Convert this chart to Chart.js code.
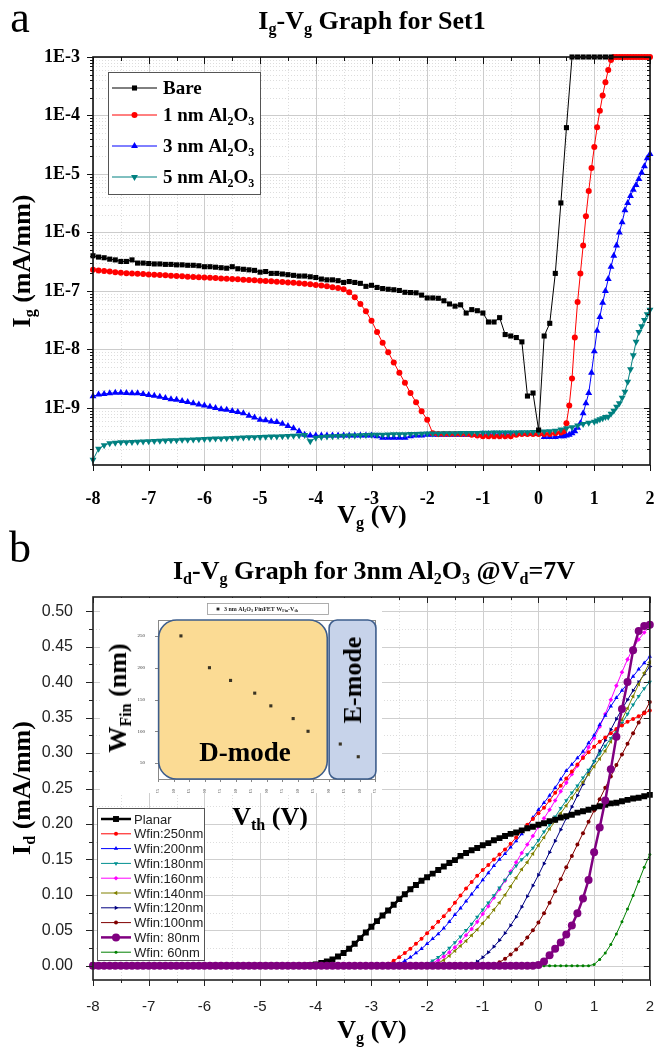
<!DOCTYPE html>
<html lang="en">
<head>
<meta charset="UTF-8">
<title>Ig-Vg and Id-Vg graphs</title>
<script src="https://cdn.jsdelivr.net/npm/chart.js"></script>
<style>
  body { margin: 0; background: #fff; }
  #wrap { position: relative; width: 654px; height: 1055px; overflow: hidden; background: #fff; }
  canvas { position: absolute; }
  .t { position: absolute; transform: translate(-50%, -50%); white-space: nowrap; font-family: "Liberation Serif", "Times New Roman", serif; font-weight: bold; color: #000; line-height: 1; }
  .rot { transform: translate(-50%, -50%) rotate(-90deg); }
  .t sub { font-size: 62%; vertical-align: baseline; position: relative; top: 0.32em; line-height: 0; }
</style>
</head>
<body>
<div id="wrap">
  <canvas id="igChart" width="654" height="530" style="left:0;top:0"></canvas>
  <canvas id="idChart" width="654" height="525" style="left:0;top:530px"></canvas>
  <canvas id="wfinChart" width="282" height="195" style="left:100px;top:598px"></canvas>

  <div class="t" style="left:20px;top:18px;font-size:44px;font-weight:normal">a</div>
  <div class="t" style="left:372px;top:21px;font-size:26px">I<sub>g</sub>-V<sub>g</sub> Graph for Set1</div>
  <div class="t rot" style="left:22px;top:261px;font-size:26px">I<sub>g</sub> (mA/mm)</div>
  <div class="t" style="left:372px;top:515px;font-size:26px">V<sub>g</sub> (V)</div>

  <div class="t" style="left:20px;top:548px;font-size:44px;font-weight:normal">b</div>
  <div class="t" style="left:374px;top:571px;font-size:26px">I<sub>d</sub>-V<sub>g</sub> Graph for 3nm Al<sub>2</sub>O<sub>3</sub> @V<sub>d</sub>=7V</div>
  <div class="t rot" style="left:22px;top:788px;font-size:26px">I<sub>d</sub> (mA/mm)</div>
  <div class="t" style="left:372px;top:1030px;font-size:26px">V<sub>g</sub> (V)</div>

  <div class="t rot" style="left:118px;top:698px;font-size:26px">W<sub>Fin</sub> (nm)</div>
  <div class="t" style="left:270px;top:817px;font-size:26px">V<sub>th</sub> (V)</div>
  <div class="t" style="left:245px;top:752px;font-size:27px">D-mode</div>
  <div class="t rot" style="left:353px;top:680px;font-size:26px">E-mode</div>
</div>
<script>
// gate voltage sweep, -8 V .. 2 V
const vgSweep = [
  -8, -7.9, -7.8, -7.7, -7.6, -7.5, -7.4, -7.3, -7.2, -7.1,
  -7, -6.9, -6.8, -6.7, -6.6, -6.5, -6.4, -6.3, -6.2, -6.1,
  -6, -5.9, -5.8, -5.7, -5.6, -5.5, -5.4, -5.3, -5.2, -5.1,
  -5, -4.9, -4.8, -4.7, -4.6, -4.5, -4.4, -4.3, -4.2, -4.1,
  -4, -3.9, -3.8, -3.7, -3.6, -3.5, -3.4, -3.3, -3.2, -3.1,
  -3, -2.9, -2.8, -2.7, -2.6, -2.5, -2.4, -2.3, -2.2, -2.1,
  -2, -1.9, -1.8, -1.7, -1.6, -1.5, -1.4, -1.3, -1.2, -1.1,
  -1, -0.9, -0.8, -0.7, -0.6, -0.5, -0.4, -0.3, -0.2, -0.1,
  0, 0.1, 0.2, 0.3, 0.4, 0.5, 0.6, 0.7, 0.8, 0.9,
  1, 1.1, 1.2, 1.3, 1.4, 1.5, 1.6, 1.7, 1.8, 1.9,
  2
];
// finer steps used on the turn-on part of the Ig curves
const vgFine = [
  0.45, 0.5, 0.55, 0.6, 0.65, 0.7, 0.75, 0.8, 0.85, 0.9,
  0.95, 1, 1.05, 1.1, 1.15, 1.2, 1.25, 1.3, 1.35, 1.4,
  1.45, 1.5, 1.55, 1.6, 1.65, 1.7, 1.75, 1.8, 1.85, 1.9,
  1.95, 2
];

// ---- panel a: Ig (mA/mm) ----
const bareIg = [
  4.0e-7, 3.8e-7, 3.7e-7, 3.5e-7, 3.4e-7, 3.2e-7, 3.2e-7, 3.4e-7, 3.0e-7, 3.0e-7,
  2.95e-7, 2.9e-7, 2.9e-7, 2.85e-7, 2.85e-7, 2.8e-7, 2.8e-7, 2.75e-7, 2.75e-7, 2.7e-7,
  2.6e-7, 2.6e-7, 2.55e-7, 2.5e-7, 2.45e-7, 2.6e-7, 2.4e-7, 2.35e-7, 2.3e-7, 2.25e-7,
  2.1e-7, 2.15e-7, 2.0e-7, 2.0e-7, 1.95e-7, 1.9e-7, 1.85e-7, 1.8e-7, 1.8e-7, 1.75e-7,
  1.7e-7, 1.6e-7, 1.55e-7, 1.55e-7, 1.5e-7, 1.4e-7, 1.45e-7, 1.4e-7, 1.35e-7, 1.2e-7,
  1.25e-7, 1.15e-7, 1.1e-7, 1.07e-7, 1.05e-7, 1.02e-7, 9.5e-8, 9.4e-8, 9.3e-8, 8.5e-8,
  7.6e-8, 7.6e-8, 7.5e-8, 6.8e-8, 6.0e-8, 5.5e-8, 5.8e-8, 4.2e-8, 4.8e-8, 4.6e-8,
  4.2e-8, 2.95e-8, 2.95e-8, 3.5e-8, 1.8e-8, 1.7e-8, 1.6e-8, 1.35e-8, 1.6e-9, 1.8e-9,
  4.2e-10, 1.7e-8, 2.8e-8, 2.0e-7, 3.2e-6, 6.2e-5, 1e-3, 1e-3, 1e-3, 1e-3,
  1e-3, 1e-3, 1e-3, 1e-3
];
const al1Ig = [
  2.30e-7, 2.25e-7, 2.20e-7, 2.15e-7, 2.10e-7, 2.05e-7, 2.02e-7, 2.00e-7, 1.97e-7, 1.95e-7,
  1.92e-7, 1.90e-7, 1.87e-7, 1.85e-7, 1.83e-7, 1.80e-7, 1.78e-7, 1.76e-7, 1.74e-7, 1.72e-7,
  1.70e-7, 1.68e-7, 1.66e-7, 1.64e-7, 1.62e-7, 1.60e-7, 1.58e-7, 1.56e-7, 1.54e-7, 1.52e-7,
  1.50e-7, 1.48e-7, 1.46e-7, 1.44e-7, 1.42e-7, 1.40e-7, 1.38e-7, 1.36e-7, 1.33e-7, 1.30e-7,
  1.27e-7, 1.24e-7, 1.20e-7, 1.16e-7, 1.12e-7, 1.07e-7, 9.5e-8, 7.8e-8, 6.0e-8, 4.5e-8,
  3.1e-8, 2.0e-8, 1.3e-8, 9.0e-9, 6.0e-9, 4.0e-9, 2.7e-9, 1.8e-9, 1.25e-9, 8.8e-10,
  6.3e-10, 3.7e-10, 3.6e-10, 3.6e-10, 3.6e-10, 3.6e-10, 3.6e-10, 3.6e-10, 3.5e-10, 3.4e-10,
  3.3e-10, 3.3e-10, 3.3e-10, 3.3e-10, 3.3e-10, 3.3e-10, 3.5e-10, 3.6e-10, 3.6e-10, 3.6e-10,
  3.6e-10, 3.6e-10, 3.6e-10, 3.7e-10, 3.8e-10
];
const al1IgFine = [
  4.0e-10, 5.5e-10, 1.1e-9, 3.2e-9, 1.6e-8, 6.5e-8, 2.0e-7, 6.0e-7, 1.9e-6, 5.1e-6,
  1.26e-5, 2.9e-5, 6.3e-5, 1.2e-4, 2.2e-4, 3.7e-4, 6.0e-4, 8.9e-4, 1e-3, 1e-3,
  1e-3, 1e-3, 1e-3, 1e-3, 1e-3, 1e-3, 1e-3, 1e-3, 1e-3, 1e-3,
  1e-3, 1e-3
];
const al3Ig = [
  1.58e-9, 1.70e-9, 1.74e-9, 1.78e-9, 1.82e-9, 1.82e-9, 1.80e-9, 1.78e-9, 1.78e-9, 1.74e-9,
  1.66e-9, 1.62e-9, 1.55e-9, 1.48e-9, 1.41e-9, 1.38e-9, 1.32e-9, 1.26e-9, 1.20e-9, 1.15e-9,
  1.10e-9, 1.05e-9, 1.00e-9, 9.5e-10, 9.3e-10, 8.9e-10, 8.5e-10, 8.1e-10, 7.4e-10, 6.9e-10,
  6.3e-10, 6.2e-10, 5.9e-10, 5.75e-10, 5.4e-10, 4.9e-10, 4.5e-10, 4.0e-10, 3.5e-10, 3.4e-10,
  3.4e-10, 3.4e-10, 3.4e-10, 3.4e-10, 3.4e-10, 3.4e-10, 3.4e-10, 3.4e-10, 3.4e-10, 3.4e-10,
  3.4e-10, 3.3e-10, 3.1e-10, 3.1e-10, 3.1e-10, 3.1e-10, 3.1e-10, 3.3e-10, 3.4e-10, 3.4e-10,
  3.5e-10, 3.5e-10, 3.5e-10, 3.5e-10, 3.5e-10, 3.5e-10, 3.5e-10, 3.5e-10, 3.5e-10, 3.5e-10,
  3.6e-10, 3.6e-10, 3.6e-10, 3.6e-10, 3.6e-10, 3.6e-10, 3.6e-10, 3.6e-10, 3.6e-10, 3.6e-10,
  3.6e-10, 3.2e-10, 3.2e-10, 3.2e-10, 3.3e-10
];
const al3IgFine = [
  3.3e-10, 3.4e-10, 3.5e-10, 3.7e-10, 4.0e-10, 4.6e-10, 5.5e-10, 8.1e-10, 1.2e-9, 1.8e-9,
  4.0e-9, 9.3e-9, 2.1e-8, 3.6e-8, 6.3e-8, 1.0e-7, 1.6e-7, 2.6e-7, 4.0e-7, 6.0e-7,
  1.0e-6, 1.5e-6, 2.4e-6, 3.2e-6, 4.2e-6, 5.4e-6, 6.5e-6, 8.2e-6, 1.05e-5, 1.35e-5,
  1.85e-5, 2.2e-5
];
const al5Ig = [
  1.3e-10, 2.0e-10, 2.3e-10, 2.5e-10, 2.55e-10, 2.6e-10, 2.6e-10, 2.62e-10, 2.65e-10, 2.67e-10,
  2.7e-10, 2.72e-10, 2.75e-10, 2.77e-10, 2.8e-10, 2.82e-10, 2.85e-10, 2.87e-10, 2.9e-10, 2.92e-10,
  2.95e-10, 2.97e-10, 3.0e-10, 3.02e-10, 3.05e-10, 3.07e-10, 3.1e-10, 3.12e-10, 3.15e-10, 3.17e-10,
  3.2e-10, 3.22e-10, 3.25e-10, 3.27e-10, 3.3e-10, 3.32e-10, 3.35e-10, 3.4e-10, 3.45e-10, 2.7e-10,
  3.1e-10, 3.2e-10, 3.25e-10, 3.3e-10, 3.32e-10, 3.35e-10, 3.37e-10, 3.4e-10, 3.42e-10, 3.45e-10,
  3.47e-10, 3.5e-10, 3.5e-10, 3.52e-10, 3.55e-10, 3.55e-10, 3.57e-10, 3.6e-10, 3.6e-10, 3.62e-10,
  3.65e-10, 3.65e-10, 3.67e-10, 3.7e-10, 3.7e-10, 3.7e-10, 3.72e-10, 3.72e-10, 3.75e-10, 3.75e-10,
  3.77e-10, 3.77e-10, 3.8e-10, 3.8e-10, 3.8e-10, 3.82e-10, 3.82e-10, 3.85e-10, 3.85e-10, 3.87e-10,
  3.9e-10, 3.95e-10, 4.0e-10, 4.1e-10, 4.3e-10, 4.5e-10, 4.7e-10, 5.0e-10, 5.3e-10, 5.6e-10,
  5.8e-10
];
const al5IgFine = [
  6.1e-10, 6.4e-10, 6.7e-10, 7.0e-10, 7.1e-10, 8.0e-10, 9.0e-10, 1.05e-9, 1.2e-9, 1.5e-9,
  1.9e-9, 2.8e-9, 4.6e-9, 8.0e-9, 1.35e-8, 2.0e-8, 2.5e-8, 3.2e-8, 4.0e-8, 4.8e-8
];

const igTicks = [1e-3, 1e-4, 1e-5, 1e-6, 1e-7, 1e-8, 1e-9];
const vgTicks = [-8, -7, -6, -5, -4, -3, -2, -1, 0, 1, 2];
const vgHalf = [-7.5, -6.5, -5.5, -4.5, -3.5, -2.5, -1.5, -0.5, 0.5, 1.5];

// ---- panel b: Id (mA/mm) at Vd = 7 V ----
const planarId = [
  0, 0, 0, 0, 0, 0, 0, 0, 0, 0,
  0, 0, 0, 0, 0, 0, 0, 0, 0, 0,
  0, 0, 0, 0, 0, 0, 0, 0, 0, 0,
  0, 0, 0, 0, 0, 0, 0, 0, 0, 0.001,
  0.002, 0.004, 0.006, 0.009, 0.013, 0.018, 0.024, 0.031, 0.039, 0.047,
  0.055, 0.063, 0.071, 0.078, 0.086, 0.094, 0.101, 0.108, 0.114, 0.120,
  0.125, 0.130, 0.135, 0.140, 0.145, 0.149, 0.155, 0.159, 0.163, 0.166,
  0.170, 0.173, 0.177, 0.180, 0.183, 0.186, 0.188, 0.191, 0.194, 0.196,
  0.199, 0.201, 0.204, 0.206, 0.209, 0.211, 0.213, 0.216, 0.218, 0.220,
  0.223, 0.225, 0.227, 0.229, 0.230, 0.232, 0.234, 0.236, 0.237, 0.239,
  0.241
];
const w250Id = [
  0, 0, 0, 0, 0, 0, 0, 0, 0, 0,
  0, 0, 0, 0, 0, 0, 0, 0, 0, 0,
  0, 0, 0, 0, 0, 0, 0, 0, 0, 0,
  0, 0, 0, 0, 0, 0, 0, 0, 0, 0,
  0, 0, 0, 0, 0, 0, 0, 0, 0, 0,
  0, 0, 0, 0.003, 0.007, 0.012, 0.018, 0.024, 0.031, 0.038,
  0.046, 0.054, 0.062, 0.070, 0.079, 0.089, 0.099, 0.109, 0.118, 0.127,
  0.135, 0.142, 0.150, 0.157, 0.164, 0.172, 0.181, 0.190, 0.199, 0.207,
  0.215, 0.223, 0.233, 0.244, 0.254, 0.264, 0.274, 0.284, 0.293, 0.301,
  0.309, 0.316, 0.322, 0.328, 0.334, 0.339, 0.344, 0.348, 0.352, 0.356,
  0.360
];
const w200Id = [
  0, 0, 0, 0, 0, 0, 0, 0, 0, 0,
  0, 0, 0, 0, 0, 0, 0, 0, 0, 0,
  0, 0, 0, 0, 0, 0, 0, 0, 0, 0,
  0, 0, 0, 0, 0, 0, 0, 0, 0, 0,
  0, 0, 0, 0, 0, 0, 0, 0, 0, 0,
  0, 0, 0, 0, 0, 0.003, 0.007, 0.012, 0.018, 0.024,
  0.031, 0.038, 0.045, 0.053, 0.062, 0.072, 0.081, 0.091, 0.101, 0.111,
  0.121, 0.131, 0.141, 0.150, 0.158, 0.167, 0.176, 0.186, 0.196, 0.209,
  0.220, 0.230, 0.240, 0.251, 0.263, 0.275, 0.284, 0.293, 0.302, 0.314,
  0.325, 0.340, 0.353, 0.366, 0.378, 0.388, 0.398, 0.408, 0.418, 0.427,
  0.436
];
const w180Id = [
  0, 0, 0, 0, 0, 0, 0, 0, 0, 0,
  0, 0, 0, 0, 0, 0, 0, 0, 0, 0,
  0, 0, 0, 0, 0, 0, 0, 0, 0, 0,
  0, 0, 0, 0, 0, 0, 0, 0, 0, 0,
  0, 0, 0, 0, 0, 0, 0, 0, 0, 0,
  0, 0, 0, 0, 0, 0, 0, 0, 0, 0,
  0.003, 0.007, 0.012, 0.018, 0.025, 0.033, 0.041, 0.050, 0.059, 0.069,
  0.079, 0.089, 0.099, 0.110, 0.121, 0.131, 0.141, 0.150, 0.157, 0.166,
  0.177, 0.189, 0.199, 0.210, 0.222, 0.233, 0.244, 0.254, 0.265, 0.276,
  0.288, 0.299, 0.310, 0.321, 0.332, 0.342, 0.355, 0.368, 0.380, 0.391,
  0.400
];
const w160Id = [
  0, 0, 0, 0, 0, 0, 0, 0, 0, 0,
  0, 0, 0, 0, 0, 0, 0, 0, 0, 0,
  0, 0, 0, 0, 0, 0, 0, 0, 0, 0,
  0, 0, 0, 0, 0, 0, 0, 0, 0, 0,
  0, 0, 0, 0, 0, 0, 0, 0, 0, 0,
  0, 0, 0, 0, 0, 0, 0, 0, 0, 0,
  0, 0.004, 0.008, 0.013, 0.019, 0.026, 0.034, 0.043, 0.052, 0.062,
  0.073, 0.084, 0.096, 0.108, 0.120, 0.133, 0.146, 0.159, 0.171, 0.183,
  0.196, 0.208, 0.220, 0.233, 0.246, 0.258, 0.270, 0.282, 0.295, 0.308,
  0.321, 0.337, 0.355, 0.375, 0.395, 0.414, 0.432, 0.448, 0.460, 0.470,
  0.478
];
const w140Id = [
  0, 0, 0, 0, 0, 0, 0, 0, 0, 0,
  0, 0, 0, 0, 0, 0, 0, 0, 0, 0,
  0, 0, 0, 0, 0, 0, 0, 0, 0, 0,
  0, 0, 0, 0, 0, 0, 0, 0, 0, 0,
  0, 0, 0, 0, 0, 0, 0, 0, 0, 0,
  0, 0, 0, 0, 0, 0, 0, 0, 0, 0,
  0, 0, 0.004, 0.008, 0.014, 0.021, 0.028, 0.035, 0.043, 0.051,
  0.060, 0.069, 0.079, 0.089, 0.100, 0.112, 0.124, 0.136, 0.146, 0.158,
  0.170, 0.181, 0.193, 0.204, 0.215, 0.226, 0.237, 0.248, 0.259, 0.270,
  0.281, 0.292, 0.303, 0.316, 0.331, 0.347, 0.363, 0.380, 0.397, 0.413,
  0.428
];
const w120Id = [
  0, 0, 0, 0, 0, 0, 0, 0, 0, 0,
  0, 0, 0, 0, 0, 0, 0, 0, 0, 0,
  0, 0, 0, 0, 0, 0, 0, 0, 0, 0,
  0, 0, 0, 0, 0, 0, 0, 0, 0, 0,
  0, 0, 0, 0, 0, 0, 0, 0, 0, 0,
  0, 0, 0, 0, 0, 0, 0, 0, 0, 0,
  0, 0, 0, 0, 0, 0, 0, 0, 0.002, 0.006,
  0.012, 0.019, 0.027, 0.036, 0.046, 0.057, 0.069, 0.083, 0.098, 0.113,
  0.128, 0.144, 0.160, 0.176, 0.192, 0.208, 0.224, 0.240, 0.256, 0.272,
  0.288, 0.303, 0.318, 0.333, 0.348, 0.362, 0.375, 0.388, 0.400, 0.411,
  0.422
];
const w100Id = [
  0, 0, 0, 0, 0, 0, 0, 0, 0, 0,
  0, 0, 0, 0, 0, 0, 0, 0, 0, 0,
  0, 0, 0, 0, 0, 0, 0, 0, 0, 0,
  0, 0, 0, 0, 0, 0, 0, 0, 0, 0,
  0, 0, 0, 0, 0, 0, 0, 0, 0, 0,
  0, 0, 0, 0, 0, 0, 0, 0, 0, 0,
  0, 0, 0, 0, 0, 0, 0, 0, 0, 0,
  0, 0, 0.002, 0.005, 0.010, 0.016, 0.023, 0.031, 0.040, 0.050,
  0.061, 0.074, 0.089, 0.105, 0.122, 0.139, 0.155, 0.171, 0.187, 0.203,
  0.219, 0.235, 0.251, 0.267, 0.283, 0.298, 0.313, 0.328, 0.343, 0.357,
  0.372
];
const w80Id = [
  0, 0, 0, 0, 0, 0, 0, 0, 0, 0,
  0, 0, 0, 0, 0, 0, 0, 0, 0, 0,
  0, 0, 0, 0, 0, 0, 0, 0, 0, 0,
  0, 0, 0, 0, 0, 0, 0, 0, 0, 0,
  0, 0, 0, 0, 0, 0, 0, 0, 0, 0,
  0, 0, 0, 0, 0, 0, 0, 0, 0, 0,
  0, 0, 0, 0, 0, 0, 0, 0, 0, 0,
  0, 0, 0, 0, 0, 0, 0, 0, 0, 0,
  0.001, 0.006, 0.015, 0.024, 0.033, 0.044, 0.057, 0.074, 0.095, 0.121,
  0.160, 0.195, 0.233, 0.277, 0.323, 0.362, 0.400, 0.445, 0.472, 0.479,
  0.481
];
const w60Id = [
  0, 0, 0, 0, 0, 0, 0, 0, 0, 0,
  0, 0, 0, 0, 0, 0, 0, 0, 0, 0,
  0, 0, 0, 0, 0, 0, 0, 0, 0, 0,
  0, 0, 0, 0, 0, 0, 0, 0, 0, 0,
  0, 0, 0, 0, 0, 0, 0, 0, 0, 0,
  0, 0, 0, 0, 0, 0, 0, 0, 0, 0,
  0, 0, 0, 0, 0, 0, 0, 0, 0, 0,
  0, 0, 0, 0, 0, 0, 0, 0, 0, 0,
  0, 0, 0, 0, 0, 0, 0, 0, 0, 0,
  0.002, 0.009, 0.018, 0.030, 0.045, 0.062, 0.080, 0.099, 0.119, 0.139,
  0.157
];
const idTicks = [0, 0.05, 0.1, 0.15, 0.2, 0.25, 0.3, 0.35, 0.4, 0.45, 0.5];

// ---- inset: fin width vs threshold voltage ----
const finVth = [-2.38, -1.92, -1.58, -1.19, -0.93, -0.57, -0.33, 0.19, 0.48];
const finWidth = [250, 200, 180, 160, 140, 120, 100, 80, 60];
const vthTicks = [-2.75, -2.5, -2.25, -2, -1.75, -1.5, -1.25, -1, -0.75, -0.5, -0.25, 0, 0.25, 0.5, 0.75];
const wfinTicks = [50, 100, 150, 200, 250];
const dModeSpan = [-2.74, -0.02];
const eModeSpan = [0.01, 0.765];

const SERIF = '"Liberation Serif", "Times New Roman", serif';
const SANS = '"Liberation Sans", Arial, sans-serif';

function pts(xs, ys) { return ys.map((y, i) => ({ x: xs[i], y: y })); }

function marker(ctx, style, x, y, r, rot) {
  ctx.beginPath();
  if (style === 'circle') {
    ctx.arc(x, y, r, 0, Math.PI * 2);
  } else if (style === 'rect') {
    const s = r * Math.SQRT1_2;
    ctx.rect(x - s, y - s, 2 * s, 2 * s);
  } else if (style === 'rectRot') {
    ctx.moveTo(x, y - r); ctx.lineTo(x + r, y); ctx.lineTo(x, y + r); ctx.lineTo(x - r, y); ctx.closePath();
  } else {
    let a = (rot || 0) * Math.PI / 180;
    for (let k = 0; k < 3; k++) {
      const px = x + Math.sin(a) * r, py = y - Math.cos(a) * r;
      if (k === 0) ctx.moveTo(px, py); else ctx.lineTo(px, py);
      a += Math.PI * 2 / 3;
    }
    ctx.closePath();
  }
  ctx.fill();
}

// text with subscripts: strings are normal, {sub:'..'} are subscripts
function drawRich(ctx, x, y, parts, size, family, weight) {
  ctx.textBaseline = 'middle';
  ctx.textAlign = 'left';
  parts.forEach(p => {
    const isSub = typeof p !== 'string';
    const s = isSub ? Math.round(size * 0.62) : size;
    const txt = isSub ? p.sub : p;
    ctx.font = weight + ' ' + s + 'px ' + family;
    ctx.fillText(txt, x, y + (isSub ? size * 0.32 : 0));
    x += ctx.measureText(txt).width;
  });
}

// grid behind the data, frame and tick marks on top of it
function framePlugin(o) {
  return {
    id: 'frame',
    beforeDatasetsDraw(chart) {
      const { ctx, chartArea: a } = chart;
      const sx = chart.scales.x, sy = chart.scales.y;
      const vline = v => { const p = Math.round(sx.getPixelForValue(v)) + 0.5; ctx.beginPath(); ctx.moveTo(p, a.top); ctx.lineTo(p, a.bottom); ctx.stroke(); };
      const hline = v => { const p = Math.round(sy.getPixelForValue(v)) + 0.5; ctx.beginPath(); ctx.moveTo(a.left, p); ctx.lineTo(a.right, p); ctx.stroke(); };
      ctx.save();
      ctx.lineWidth = 1;
      ctx.strokeStyle = o.minorColor;
      ctx.setLineDash([1, 2]);
      o.xMinor.forEach(vline);
      o.yMinor.forEach(hline);
      ctx.setLineDash([]);
      ctx.strokeStyle = o.majorColor;
      o.xMajor.forEach(vline);
      o.yMajor.forEach(hline);
      ctx.restore();
    },
    afterDatasetsDraw(chart) {
      const { ctx, chartArea: a } = chart;
      ctx.save();
      ctx.strokeStyle = o.border;
      ctx.lineWidth = 1;
      o.ticks.forEach(([side, axis, values, len, out]) => {
        const sc = chart.scales[axis];
        values.forEach(v => {
          const p = Math.round(sc.getPixelForValue(v)) + 0.5;
          ctx.beginPath();
          if (side === 'bottom') { ctx.moveTo(p, a.bottom); ctx.lineTo(p, a.bottom + (out ? len : -len)); }
          if (side === 'top') { ctx.moveTo(p, a.top); ctx.lineTo(p, a.top + (out ? -len : len)); }
          if (side === 'left') { ctx.moveTo(a.left, p); ctx.lineTo(a.left + (out ? -len : len), p); }
          if (side === 'right') { ctx.moveTo(a.right, p); ctx.lineTo(a.right + (out ? len : -len), p); }
          ctx.stroke();
        });
      });
      ctx.lineWidth = o.borderWidth;
      ctx.strokeRect(a.left, a.top, a.right - a.left, a.bottom - a.top);
      ctx.restore();
    }
  };
}

function legendPlugin(o) {
  return {
    id: 'legendBox',
    afterDraw(chart) {
      const ctx = chart.ctx;
      ctx.save();
      ctx.fillStyle = '#fff';
      ctx.fillRect(o.x, o.y, o.w, o.h);
      ctx.strokeStyle = o.border;
      ctx.lineWidth = 1;
      ctx.strokeRect(o.x + 0.5, o.y + 0.5, o.w, o.h);
      o.items.forEach((it, i) => {
        const y = o.y + o.rows[i];
        ctx.strokeStyle = it.color;
        ctx.lineWidth = it.lw;
        ctx.beginPath();
        ctx.moveTo(o.x + o.line[0], y);
        ctx.lineTo(o.x + o.line[1], y);
        ctx.stroke();
        ctx.fillStyle = it.color;
        marker(ctx, it.style, o.x + (o.line[0] + o.line[1]) / 2, y, it.r, it.rot);
        ctx.fillStyle = o.textColor;
        drawRich(ctx, o.x + o.textX, y + 1, it.label, o.size, o.family, o.weight);
      });
      ctx.restore();
    }
  };
}

// ---------------- panel a ----------------
const igMinor = [];
for (let e = -10; e <= -4; e++) {
  for (let m = 2; m <= 9; m++) {
    const v = m * Math.pow(10, e);
    if (v > 1.06e-10 && v < 1e-3) igMinor.push(v);
  }
}

const topSeries = [
  { label: ['Bare'], data: pts(vgSweep, bareIg), color: '#000000', style: 'rect', r: 3.6, rot: 0, order: 0 },
  { label: ['1 nm Al', { sub: '2' }, 'O', { sub: '3' }], data: pts(vgSweep, al1Ig).concat(pts(vgFine, al1IgFine)), color: '#ff0000', style: 'circle', r: 3, rot: 0, order: 2 },
  { label: ['3 nm Al', { sub: '2' }, 'O', { sub: '3' }], data: pts(vgSweep, al3Ig).concat(pts(vgFine, al3IgFine)), color: '#0000ff', style: 'triangle', r: 4, rot: 0, order: 3 },
  { label: ['5 nm Al', { sub: '2' }, 'O', { sub: '3' }], data: pts(vgSweep, al5Ig).concat(pts(vgFine.slice(12), al5IgFine)), color: '#008080', style: 'triangle', r: 4, rot: 180, order: 1 }
];

new Chart(document.getElementById('igChart'), {
  type: 'line',
  data: {
    datasets: topSeries.map(s => ({
      data: s.data,
      borderColor: s.color,
      backgroundColor: s.color,
      borderWidth: 1,
      pointStyle: s.style,
      pointRadius: s.r,
      pointRotation: s.rot,
      pointBorderWidth: 0,
      order: s.order,
      clip: 6
    }))
  },
  options: {
    responsive: false,
    animation: false,
    events: [],
    layout: { padding: { left: 0, right: 2, top: 57, bottom: 0 } },
    plugins: { legend: { display: false }, tooltip: { enabled: false } },
    scales: {
      x: {
        type: 'linear', min: -8, max: 2,
        grid: { display: false }, border: { display: false },
        afterBuildTicks: s => { s.ticks = vgTicks.map(v => ({ value: v })); },
        afterFit: s => { s.height = 65; s.paddingLeft = 0; s.paddingRight = 0; },
        ticks: { color: '#000', padding: 16, maxRotation: 0, font: { family: SERIF, size: 18, weight: 'bold' } }
      },
      y: {
        type: 'logarithmic', min: 1.06e-10, max: 1e-3,
        grid: { display: false }, border: { display: false },
        afterBuildTicks: s => { s.ticks = igTicks.map(v => ({ value: v })); },
        afterFit: s => { s.width = 93; s.paddingTop = 0; s.paddingBottom = 0; },
        ticks: { color: '#000', padding: 5, font: { family: SERIF, size: 18, weight: 'bold' },
          callback: v => '1E' + Math.round(Math.log10(v)) }
      }
    }
  },
  plugins: [
    framePlugin({
      xMajor: vgTicks, xMinor: vgHalf, yMajor: igTicks, yMinor: igMinor,
      majorColor: '#cccccc', minorColor: '#dddddd', border: '#111111', borderWidth: 1.6,
      ticks: [
        ['bottom', 'x', vgTicks, 6, true], ['bottom', 'x', vgHalf, 3, true],
        ['top', 'x', vgTicks, 7, false], ['top', 'x', vgHalf, 4, false],
        ['left', 'y', igTicks, 6, true], ['left', 'y', igMinor, 3, true],
        ['right', 'y', igTicks, 6, false], ['right', 'y', igMinor, 3, false]
      ]
    }),
    legendPlugin({
      x: 108, y: 72, w: 152, h: 122, rows: [16, 43, 74, 105], line: [4, 49], textX: 55,
      border: '#555', textColor: '#000', size: 19, family: SERIF, weight: 'bold',
      items: topSeries.map(s => ({ label: s.label, color: s.color, style: s.style, r: s.r, rot: s.rot, lw: 1 }))
    })
  ]
});

// ---------------- panel b ----------------
const idMinor = idTicks.map(v => v + 0.025).filter(v => v < 0.52);

const bottomSeries = [
  { label: 'Planar', data: planarId, color: '#000000', style: 'rect', r: 4.2, lw: 2.5, order: 1 },
  { label: 'Wfin:250nm', data: w250Id, color: '#ff0000', style: 'circle', r: 2, lw: 1, order: 3 },
  { label: 'Wfin:200nm', data: w200Id, color: '#0000ff', style: 'triangle', r: 2.5, lw: 1, order: 4 },
  { label: 'Wfin:180nm', data: w180Id, color: '#009090', style: 'triangle', r: 2.5, rot: 180, lw: 1, order: 5 },
  { label: 'Wfin:160nm', data: w160Id, color: '#ff00ff', style: 'rectRot', r: 2.3, lw: 1, order: 6 },
  { label: 'Wfin:140nm', data: w140Id, color: '#808000', style: 'triangle', r: 2.5, rot: 270, lw: 1, order: 7 },
  { label: 'Wfin:120nm', data: w120Id, color: '#000080', style: 'triangle', r: 2.5, rot: 90, lw: 1, order: 8 },
  { label: 'Wfin:100nm', data: w100Id, color: '#800000', style: 'circle', r: 2, lw: 1, order: 9 },
  { label: 'Wfin: 80nm', data: w80Id, color: '#800080', style: 'circle', r: 4, lw: 2.5, order: 0 },
  { label: 'Wfin: 60nm', data: w60Id, color: '#008000', style: 'circle', r: 1.5, lw: 1, order: 2 }
];

new Chart(document.getElementById('idChart'), {
  type: 'line',
  data: {
    datasets: bottomSeries.map(s => ({
      data: pts(vgSweep, s.data),
      borderColor: s.color,
      backgroundColor: s.color,
      borderWidth: s.lw,
      pointStyle: s.style,
      pointRadius: s.r,
      pointRotation: s.rot || 0,
      pointBorderWidth: 0,
      order: s.order,
      clip: 6
    }))
  },
  options: {
    responsive: false,
    animation: false,
    events: [],
    layout: { padding: { left: 0, right: 2, top: 67, bottom: 0 } },
    plugins: { legend: { display: false }, tooltip: { enabled: false } },
    scales: {
      x: {
        type: 'linear', min: -8, max: 2,
        grid: { display: false }, border: { display: false },
        afterBuildTicks: s => { s.ticks = vgTicks.map(v => ({ value: v })); },
        afterFit: s => { s.height = 75; s.paddingLeft = 0; s.paddingRight = 0; },
        ticks: { color: '#222', padding: 10, maxRotation: 0, font: { family: SANS, size: 15 } }
      },
      y: {
        type: 'linear', min: -0.02, max: 0.52,
        grid: { display: false }, border: { display: false },
        afterBuildTicks: s => { s.ticks = idTicks.map(v => ({ value: v })); },
        afterFit: s => { s.width = 93; s.paddingTop = 0; s.paddingBottom = 0; },
        ticks: { color: '#222', padding: 12, font: { family: SANS, size: 16 }, callback: v => v.toFixed(2) }
      }
    }
  },
  plugins: [
    framePlugin({
      xMajor: vgTicks, xMinor: vgHalf, yMajor: idTicks, yMinor: idMinor,
      majorColor: '#cfcfcf', minorColor: '#dddddd', border: '#222222', borderWidth: 1.6,
      ticks: [
        ['bottom', 'x', vgTicks, 6, true], ['bottom', 'x', vgHalf, 3, true],
        ['top', 'x', vgTicks, 6, false], ['top', 'x', vgHalf, 3, false],
        ['left', 'y', idTicks, 7, true], ['left', 'y', idMinor, 4, true],
        ['right', 'y', idTicks, 6, false], ['right', 'y', idMinor, 3, false]
      ]
    }),
    legendPlugin({
      x: 97, y: 278, w: 107, h: 152,
      rows: [11, 25.8, 40.6, 55.4, 70.2, 85, 99.8, 114.6, 129.4, 144.2],
      line: [4, 34], textX: 37,
      border: '#555', textColor: '#222', size: 13, family: SANS, weight: 'normal',
      items: bottomSeries.map(s => ({ label: [s.label], color: s.color, style: s.style, r: s.r, rot: s.rot || 0, lw: s.lw }))
    })
  ]
});

// ---------------- inset ----------------
function roundBox(ctx, x0, y0, x1, y1, r, fill, stroke) {
  ctx.beginPath();
  ctx.moveTo(x0 + r, y0);
  ctx.arcTo(x1, y0, x1, y1, r);
  ctx.arcTo(x1, y1, x0, y1, r);
  ctx.arcTo(x0, y1, x0, y0, r);
  ctx.arcTo(x0, y0, x1, y0, r);
  ctx.closePath();
  ctx.fillStyle = fill;
  ctx.fill();
  ctx.strokeStyle = stroke;
  ctx.lineWidth = 1.6;
  ctx.stroke();
}

new Chart(document.getElementById('wfinChart'), {
  type: 'scatter',
  data: {
    datasets: [{
      data: pts(finVth, finWidth),
      backgroundColor: '#3a3424',
      borderColor: '#3a3424',
      pointStyle: 'rect',
      pointRadius: 2.2,
      pointBorderWidth: 0
    }]
  },
  options: {
    responsive: false,
    animation: false,
    events: [],
    layout: { padding: { left: 0, right: 7, top: 22, bottom: 0 } },
    plugins: { legend: { display: false }, tooltip: { enabled: false } },
    scales: {
      x: {
        type: 'linear', min: -2.75, max: 0.75,
        grid: { display: false }, border: { display: false },
        afterBuildTicks: s => { s.ticks = vthTicks.map(v => ({ value: v })); },
        afterFit: s => { s.height = 14; s.paddingLeft = 0; s.paddingRight = 0; },
        ticks: { color: '#333', padding: 2, minRotation: 90, maxRotation: 90, autoSkip: false,
          font: { family: SERIF, size: 5 }, callback: v => v.toFixed(2) }
      },
      y: {
        type: 'linear', min: 25, max: 275,
        grid: { display: false }, border: { display: false },
        afterBuildTicks: s => { s.ticks = wfinTicks.map(v => ({ value: v })); },
        afterFit: s => { s.width = 58; s.paddingTop = 0; s.paddingBottom = 0; },
        ticks: { color: '#333', padding: 5, font: { family: SERIF, size: 5 } }
      }
    }
  },
  plugins: [{
    id: 'insetDecor',
    beforeDraw(chart) {
      const ctx = chart.ctx;
      ctx.save();
      ctx.fillStyle = '#fff';
      ctx.fillRect(0, 0, chart.width, chart.height);
      ctx.restore();
    },
    beforeDatasetsDraw(chart) {
      const { ctx, chartArea: a } = chart;
      const sx = chart.scales.x, sy = chart.scales.y;
      ctx.save();
      ctx.strokeStyle = '#888';
      ctx.lineWidth = 1;
      ctx.strokeRect(a.left + 0.5, a.top + 0.5, a.right - a.left, a.bottom - a.top);
      vthTicks.forEach(v => {
        const p = Math.round(sx.getPixelForValue(v)) + 0.5;
        ctx.beginPath(); ctx.moveTo(p, a.bottom); ctx.lineTo(p, a.bottom + 3); ctx.stroke();
      });
      wfinTicks.forEach(v => {
        const p = Math.round(sy.getPixelForValue(v)) + 0.5;
        ctx.beginPath(); ctx.moveTo(a.left, p); ctx.lineTo(a.left - 3, p); ctx.stroke();
      });
      roundBox(ctx, sx.getPixelForValue(dModeSpan[0]), a.top, sx.getPixelForValue(dModeSpan[1]), a.bottom, 18, '#fbdb94', '#3d5d8c');
      roundBox(ctx, sx.getPixelForValue(eModeSpan[0]), a.top, sx.getPixelForValue(eModeSpan[1]), a.bottom, 8, '#c7d3ea', '#3d5d8c');
      ctx.restore();
    },
    afterDraw(chart) {
      const ctx = chart.ctx;
      ctx.save();
      ctx.fillStyle = '#fff';
      ctx.fillRect(107, 5, 121, 11);
      ctx.strokeStyle = '#999';
      ctx.lineWidth = 0.8;
      ctx.strokeRect(107.5, 5.5, 121, 11);
      ctx.fillStyle = '#222';
      marker(ctx, 'rect', 118, 11, 2, 0);
      drawRich(ctx, 124, 11, ['3 nm Al', { sub: '2' }, 'O', { sub: '3' }, ' FinFET W', { sub: 'Fin' }, '-V', { sub: 'th' }], 6, SERIF, 'bold');
      ctx.restore();
    }
  }]
});
</script>
</body>
</html>
